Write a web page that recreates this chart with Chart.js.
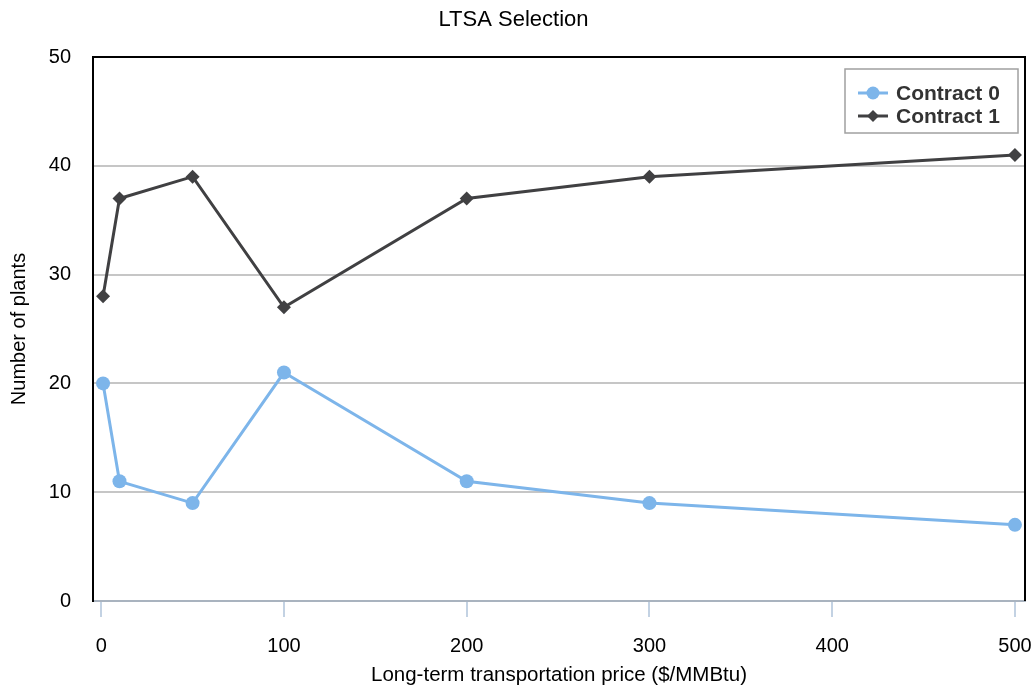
<!DOCTYPE html>
<html>
<head>
<meta charset="utf-8">
<script src="https://cdn.jsdelivr.net/npm/chart.js@4/dist/chart.umd.min.js"></script>
<style>
html,body{margin:0;padding:0;background:#fff;}
#wrap{width:1032px;height:689px;}
</style>
</head>
<body>
<div id="wrap"><canvas id="c" width="1032" height="689"></canvas></div>
<script>
const prices = [1, 10, 50, 100, 200, 300, 500];
const contract0 = [20, 11, 9, 21, 11, 9, 7];
const contract1 = [28, 37, 39, 27, 37, 39, 41];
const xTicks = [0, 100, 200, 300, 400, 500];
const seriesNames = ['Contract 0', 'Contract 1'];
const chartTitle = 'LTSA Selection';
const xTitle = 'Long-term transportation price ($/MMBtu)';
const yTitle = 'Number of plants';

const FONT = "'Liberation Sans', Arial, Helvetica, sans-serif";
const C0 = '#7db5ea';
const C1 = '#404042';

const frame = {
  id: 'frame',
  afterDatasetsDraw(chart) {
    const {ctx, chartArea: a} = chart;
    ctx.save();
    ctx.strokeStyle = '#000';
    ctx.lineWidth = 2;
    ctx.beginPath();
    ctx.moveTo(a.left, a.bottom);
    ctx.lineTo(a.left, a.top);
    ctx.lineTo(a.right, a.top);
    ctx.lineTo(a.right, a.bottom);
    ctx.stroke();
    // legend box
    const bx = 845, by = 69, bw = 173, bh = 64;
    ctx.fillStyle = '#fff';
    ctx.fillRect(bx, by, bw, bh);
    ctx.strokeStyle = '#a0a0a0';
    ctx.lineWidth = 1.5;
    ctx.strokeRect(bx, by, bw, bh);
    const items = [
      {name: seriesNames[0], color: C0, style: 'circle', y: 93},
      {name: seriesNames[1], color: C1, style: 'rectRot', y: 116}
    ];
    items.forEach(it => {
      ctx.strokeStyle = it.color;
      ctx.lineWidth = 3;
      ctx.beginPath();
      ctx.moveTo(858, it.y);
      ctx.lineTo(888, it.y);
      ctx.stroke();
      ctx.fillStyle = it.color;
      ctx.beginPath();
      if (it.style === 'circle') {
        ctx.arc(873, it.y, 6.5, 0, Math.PI * 2);
      } else {
        ctx.moveTo(873, it.y - 6);
        ctx.lineTo(879, it.y);
        ctx.lineTo(873, it.y + 6);
        ctx.lineTo(867, it.y);
        ctx.closePath();
      }
      ctx.fill();
      ctx.fillStyle = '#333';
      ctx.font = "bold 21px " + FONT;
      ctx.textBaseline = 'middle';
      ctx.textAlign = 'left';
      ctx.fillText(it.name, 896, it.y + 1);
    });
    ctx.restore();
  }
};

new Chart(document.getElementById('c'), {
  type: 'line',
  data: {
    datasets: [
      {
        label: seriesNames[0],
        data: prices.map((p, i) => ({x: p, y: contract0[i]})),
        borderColor: C0, backgroundColor: C0,
        borderWidth: 3, pointRadius: 7, pointStyle: 'circle',
        pointBorderWidth: 0, tension: 0
      },
      {
        label: seriesNames[1],
        data: prices.map((p, i) => ({x: p, y: contract1[i]})),
        borderColor: C1, backgroundColor: C1,
        borderWidth: 3, pointRadius: 7, pointStyle: 'rectRot',
        pointBorderWidth: 0, tension: 0
      }
    ]
  },
  options: {
    responsive: false,
    animation: false,
    layout: {padding: {left: 0, right: 5, top: 0, bottom: 0}},
    plugins: {
      legend: {display: false},
      tooltip: {enabled: false},
      title: {
        display: true, text: chartTitle, color: '#000',
        font: {family: FONT, size: 22, weight: 'normal', lineHeight: 1.2},
        padding: {top: 7, bottom: 23.6}
      }
    },
    scales: {
      x: {
        type: 'linear', min: -4.5, max: 505.5,
        afterBuildTicks: s => { s.ticks = xTicks.map(v => ({value: v})); },
        grid: {drawOnChartArea: false, drawTicks: true, tickLength: 16, color: '#c3d2e3', lineWidth: 2},
        border: {display: true, color: '#a9b3bf', width: 2},
        ticks: {color: '#000', font: {family: FONT, size: 20}, padding: 17, maxRotation: 0},
        title: {display: true, text: xTitle, color: '#000', font: {family: FONT, size: 20.5, lineHeight: 1.2}, padding: {top: 2, bottom: 1}},
        afterFit: s => { s.height = 88; s.paddingLeft = 0; s.paddingRight = 0; }
      },
      y: {
        min: 0, max: 50,
        ticks: {stepSize: 10, color: '#000', font: {family: FONT, size: 20}, padding: 22},
        grid: {drawTicks: false, color: ctx => (ctx.tick.value === 0 || ctx.tick.value === 50) ? 'rgba(0,0,0,0)' : '#c6c6c6', lineWidth: 2},
        border: {display: true, color: '#000', width: 2},
        title: {display: true, text: yTitle, color: '#000', font: {family: FONT, size: 20, lineHeight: 1.2}, padding: {top: 7, bottom: 4}},
        afterFit: s => { s.width = 93; s.paddingTop = 0; s.paddingBottom = 0; }
      }
    }
  },
  plugins: [frame]
});
</script>
</body>
</html>
